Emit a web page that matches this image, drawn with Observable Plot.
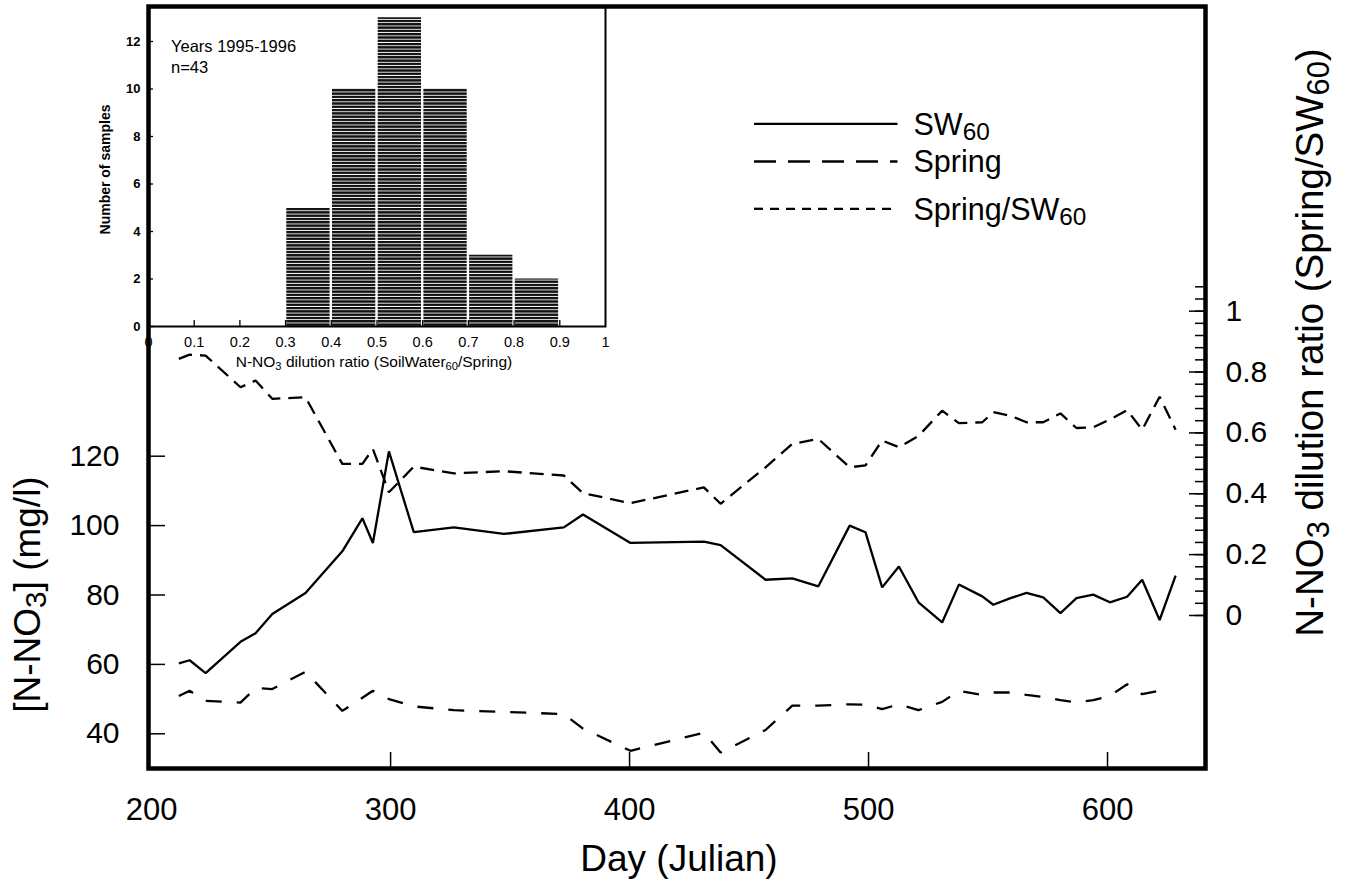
<!DOCTYPE html>
<html>
<head>
<meta charset="utf-8">
<script src="https://cdn.jsdelivr.net/npm/d3@7"></script>
<script src="https://cdn.jsdelivr.net/npm/@observablehq/plot@0.6"></script>
<style>
  html, body { margin: 0; padding: 0; background: #fff; }
  #wrap { position: relative; width: 1345px; height: 882px; overflow: hidden; }
  #wrap svg { position: absolute; top: 0; }
</style>
</head>
<body>
<div id="wrap"></div>
<script>
// ---------------- data ----------------
const days = [211.4, 215.9, 222.6, 237.2, 243.5, 250.5, 264.4, 279.8, 288.2, 292.6, 299.3, 309.7, 326.5, 347.4, 372.5, 380.5, 400.4, 431.1, 438.1, 456.9, 468.1, 479.0, 492.1, 498.7, 505.7, 512.7, 520.9, 530.8, 537.8, 547.6, 552.2, 559.4, 566.1, 573.1, 580.3, 587.0, 594.0, 601.0, 608.2, 614.5, 621.8, 628.5];
const sw60 = [60.3, 61.2, 57.5, 66.5, 69.0, 74.5, 80.6, 92.6, 102.1, 95.0, 121.4, 98.1, 99.5, 97.6, 99.5, 103.2, 95.0, 95.4, 94.4, 84.4, 84.8, 82.5, 100.0, 98.1, 82.2, 88.2, 77.9, 72.1, 83.0, 79.6, 77.2, 79.1, 80.6, 79.3, 74.8, 79.1, 80.1, 77.9, 79.5, 84.4, 72.8, 85.6];
const spring = [50.9, 52.4, 49.5, 49.0, 53.2, 52.9, 57.9, 46.6, 50.4, 52.4, 50.0, 47.9, 46.8, 46.3, 45.7, 41.5, 35.1, 40.3, 34.6, 41.1, 48.1, 48.1, 48.5, 48.4, 47.1, 48.5, 46.8, 49.2, 52.4, 51.2, 51.9, 51.9, 51.2, 50.6, 49.7, 49.0, 49.7, 50.9, 54.3, 51.4, 52.4, null];
const ratio = [0.843, 0.857, 0.854, 0.75, 0.772, 0.712, 0.717, 0.498, 0.498, 0.547, 0.405, 0.489, 0.467, 0.474, 0.46, 0.402, 0.369, 0.421, 0.367, 0.487, 0.564, 0.58, 0.487, 0.493, 0.575, 0.553, 0.59, 0.673, 0.632, 0.635, 0.668, 0.656, 0.635, 0.635, 0.664, 0.616, 0.618, 0.644, 0.675, 0.61, 0.719, 0.61];

const xTickLabels = [200, 300, 400, 500, 600];
const xTickMarks = [300, 400, 500, 600];
const yTicks = [40, 60, 80, 100, 120];
const ratioLabelTicks = [0, 0.2, 0.4, 0.6, 0.8, 1];
const ratioMinorTicks = d3.range(0, 28).map(i => +(i * 0.04).toFixed(2));

const seriesNames = ["SW_{60}", "Spring", "Spring/SW_{60}"];

// inset histogram
const binLo = [0.3, 0.4, 0.5, 0.6, 0.7, 0.8];
const binHi = [0.4, 0.5, 0.6, 0.7, 0.8, 0.9];
const binCount = [5, 10, 13, 10, 3, 2];
const insetXTicks = [0, 0.1, 0.2, 0.3, 0.4, 0.5, 0.6, 0.7, 0.8, 0.9, 1];
const insetYTicks = [0, 2, 4, 6, 8, 10, 12];

// ---------------- helpers ----------------
const FONT = "'Liberation Sans', Arial, Helvetica, sans-serif";
// the ratio axis (right) is drawn against the concentration scale
const R0 = 74.1, RK = 87.7;
const toLeft = r => R0 + RK * r;
const fromLeft = v => (v - R0) / RK;

const rows = days.map((d, i) => ({day: d, sw: sw60[i], spring: spring[i], ratio: ratio[i]}));
const bins = binLo.map((lo, i) => ({lo, hi: binHi[i], count: binCount[i]}));

const mL = 148, mR = 140, mT = 6, mB = 114, W = 1345, H = 882;
const frameW = W - mL - mR, frameH = H - mT - mB;

const lineShape = {draw(ctx, l) { ctx.moveTo(0, 0); ctx.lineTo(0, -l); }};
const legendDash = [null, "22 12", "9 7"];
const legendY = [123.3, 161, 208.3];

const legendMarks = [];
seriesNames.forEach((name, i) => {
  legendMarks.push(Plot.vector([name], {
    frameAnchor: "top-left", dx: 753.5 - mL, dy: legendY[i] - mT,
    length: 143.5, rotate: 90, anchor: "start", shape: lineShape,
    stroke: "black", fill: "none", strokeWidth: 2.3, strokeLinecap: "butt",
    strokeDasharray: legendDash[i]
  }));
  legendMarks.push(Plot.text([name], {
    frameAnchor: "top-left", dx: 913 - mL, dy: legendY[i] - mT + 1,
    text: d => d, textAnchor: "start", lineAnchor: "middle", fontSize: 30.5, fill: "black"
  }));
});

const main = Plot.plot({
  width: W, height: H,
  marginLeft: mL, marginRight: mR, marginTop: mT, marginBottom: mB,
  style: {fontFamily: FONT, background: "transparent", color: "black", overflow: "visible"},
  x: {domain: [198.7, 641], axis: null},
  y: {domain: [30, 249.6], axis: null},
  marks: [
    // lines
    Plot.line(rows, {x: "day", y: "sw", stroke: "black", strokeWidth: 2.3, strokeLinejoin: "miter", strokeLinecap: "butt"}),
    Plot.line(rows.filter(d => d.spring != null), {x: "day", y: "spring", stroke: "black", strokeWidth: 2.3, strokeDasharray: "16 15", strokeLinejoin: "miter", strokeLinecap: "butt"}),
    Plot.line(rows, {x: "day", y: d => toLeft(d.ratio), stroke: "black", strokeWidth: 2.3, strokeDasharray: "14 8", strokeLinejoin: "miter", strokeLinecap: "butt"}),
    // bottom axis
    Plot.axisX({ticks: xTickLabels, tickSize: 0, tickPadding: 29, fontSize: 31, label: null, tickFormat: d => String(d)}),
    Plot.tickX(xTickMarks, {x: d => d, insetTop: frameH - 16, stroke: "black", strokeWidth: 1.5}),
    // left axis
    Plot.axisY({ticks: yTicks, tickSize: 0, tickPadding: 29, fontSize: 30, label: null, tickFormat: d => String(d)}),
    Plot.tickY(yTicks, {y: d => d, insetRight: frameW - 17, stroke: "black", strokeWidth: 1.5}),
    // right (ratio) axis
    Plot.tickY(ratioMinorTicks, {y: r => toLeft(r), insetLeft: frameW - 10, stroke: "black", strokeWidth: 1.5}),
    Plot.tickY(ratioLabelTicks, {y: r => toLeft(r), insetLeft: frameW - 16, stroke: "black", strokeWidth: 1.5}),
    Plot.axisY({anchor: "right", ticks: ratioLabelTicks.map(toLeft), tickSize: 0, tickPadding: 20, fontSize: 30, label: null,
      tickFormat: v => String(Math.round(fromLeft(v) * 10) / 10)}),
    // titles
    Plot.text(["Day (Julian)"], {frameAnchor: "bottom", dx: 2, dy: 859 - (H - mB), text: d => d, fontSize: 37, textAnchor: "middle", lineAnchor: "middle"}),
    Plot.text(["[N-NO_{3}] (mg/l)"], {frameAnchor: "left", rotate: -90, dx: 28 - mL, dy: 594 - (mT + frameH / 2), text: d => d, fontSize: 37, textAnchor: "middle", lineAnchor: "middle"}),
    Plot.text(["N-NO_{3} dilution ratio (Spring/SW_{60})"], {frameAnchor: "right", rotate: -90, dx: 1310 - (W - mR), dy: 342 - (mT + frameH / 2), text: d => d, fontSize: 38.5, textAnchor: "middle", lineAnchor: "middle"}),
    ...legendMarks,
    Plot.frame({stroke: "black", strokeWidth: 4.5})
  ]
});

// ---------------- inset ----------------
const iL = 147.5, iR = 604.5, iT = 6, iB = 326;
const iml = 66, imr = 4, iH = 385;
const iFrameW = iR - iL, iFrameH = iB - iT;

const inset = Plot.plot({
  width: iml + iFrameW + imr, height: iH,
  marginLeft: iml, marginRight: imr, marginTop: iT, marginBottom: iH - iB,
  style: {fontFamily: FONT, background: "transparent", color: "black", overflow: "visible"},
  x: {domain: [0, 1], axis: null},
  y: {domain: [0, (iB - iT) / ((iB - 41) / 12)], axis: null},
  marks: [
    Plot.rectY(bins, {x1: "lo", x2: "hi", y: "count", insetLeft: 1.2, insetRight: 1.2, fill: "url(#hatch)"}),
    Plot.frame({stroke: "black", strokeWidth: 2}),
    Plot.axisX({ticks: insetXTicks, tickSize: 0, tickPadding: 10, fontSize: 14.5, label: null,
      tickFormat: d => (d === 0 || d === 1) ? String(d) : d.toFixed(1)}),
    Plot.tickX(insetXTicks.slice(1, -1), {x: d => d, insetTop: iFrameH - 6, stroke: "black", strokeWidth: 1.3}),
    Plot.axisY({ticks: insetYTicks, tickSize: 0, tickPadding: 8, fontSize: 13, fontWeight: "bold", label: null, tickFormat: d => String(d)}),
    Plot.tickY(insetYTicks, {y: d => d, insetRight: iFrameW - 5, stroke: "black", strokeWidth: 1.3}),
    Plot.text(["Number of samples"], {frameAnchor: "left", rotate: -90, dx: 105 - iL, dy: 169 - (iT + iFrameH / 2), text: d => d, fontSize: 14, fontWeight: "bold", textAnchor: "middle", lineAnchor: "middle"}),
    Plot.text(["N-NO_{3} dilution ratio (SoilWater_{60}/Spring)"], {frameAnchor: "bottom", dx: 373 - (iL + iFrameW / 2), dy: 362 - iB, text: d => d, fontSize: 15.5, textAnchor: "middle", lineAnchor: "middle"}),
    Plot.text(["Years 1995-1996"], {frameAnchor: "top-left", dx: 170 - iL, dy: 46 - iT, text: d => d, fontSize: 16.5, textAnchor: "start", lineAnchor: "middle"}),
    Plot.text(["n=43"], {frameAnchor: "top-left", dx: 170 - iL, dy: 67.5 - iT, text: d => d, fontSize: 16.5, textAnchor: "start", lineAnchor: "middle"})
  ]
});

// hatch pattern for the histogram bars
const NS = "http://www.w3.org/2000/svg";
const defs = document.createElementNS(NS, "defs");
const pat = document.createElementNS(NS, "pattern");
pat.setAttribute("id", "hatch");
pat.setAttribute("patternUnits", "userSpaceOnUse");
pat.setAttribute("width", "8");
pat.setAttribute("height", "3.3");
const pr = document.createElementNS(NS, "rect");
pr.setAttribute("width", "8");
pr.setAttribute("height", "2.4");
pr.setAttribute("fill", "#111");
pat.appendChild(pr);
defs.appendChild(pat);
inset.insertBefore(defs, inset.firstChild);

// subscripts: "_{..}" -> tspans
function applySubs(svg, size, shift) {
  svg.querySelectorAll("text").forEach(t => {
    const s = t.textContent;
    if (!s.includes("_{")) return;
    while (t.firstChild) t.removeChild(t.firstChild);
    const re = /_\{([^}]*)\}/g;
    let last = 0, m;
    const add = (str, sub) => {
      const ts = document.createElementNS(NS, "tspan");
      ts.textContent = str;
      if (sub) { ts.setAttribute("baseline-shift", shift); ts.setAttribute("font-size", size); }
      t.appendChild(ts);
    };
    while ((m = re.exec(s))) {
      if (m.index > last) add(s.slice(last, m.index), false);
      add(m[1], true);
      last = m.index + m[0].length;
    }
    if (last < s.length) add(s.slice(last), false);
  });
}
applySubs(main, "80%", "-20%");
applySubs(inset, "72%", "-25%");

const wrap = document.getElementById("wrap");
inset.style.left = (iL - iml) + "px";
inset.style.zIndex = 1;
main.style.left = "0px";
main.style.zIndex = 2;
wrap.appendChild(inset);
wrap.appendChild(main);
</script>
</body>
</html>
